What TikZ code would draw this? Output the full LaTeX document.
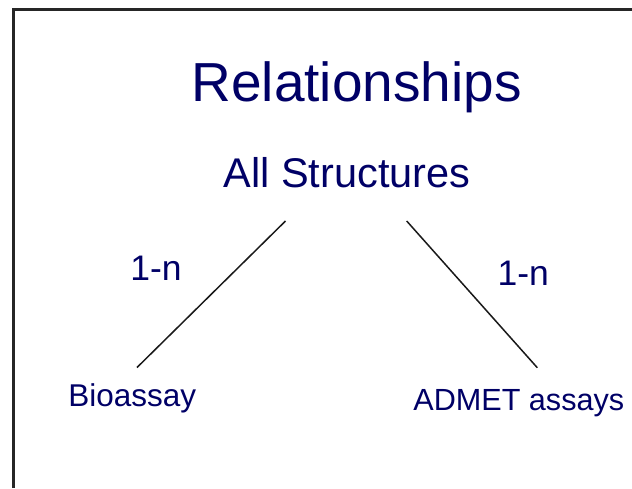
\documentclass[tikz,border=0pt]{standalone}
\usepackage{fontspec}
\setmainfont{Liberation Sans}
\definecolor{slideblue}{RGB}{0, 0, 102}
\begin{document}
\begin{tikzpicture}[x=1pt, y=-1pt,
    txt/.style={text=slideblue, inner sep=0pt, anchor=base},
    link/.style={line width=1.5pt, black!90}
  ]
  \useasboundingbox (0,0) rectangle (632,488);

  % slide frame
  \draw[line width=2.4pt, black!85] (13.5,488) -- (13.5,9.5) -- (632,9.5);

  \node[txt, font=\fontsize{55}{60}\selectfont] (title) at (356.7,101.7) {Relationships};
  \node[txt, font=\fontsize{41.5}{46}\selectfont] (allstr) at (347,187.7) {All Structures};

  \node[txt, font=\fontsize{31.5}{36}\selectfont] (bio) at (132.2,406) {Bioassay};
  \node[txt, font=\fontsize{30.6}{36}\selectfont] (admet) at (518.8,410) {ADMET assays};

  \node[txt, font=\fontsize{35.5}{40}\selectfont] (card-l) at (156,280) {1-n};
  \node[txt, font=\fontsize{35.5}{40}\selectfont] (card-r) at (523.3,285) {1-n};

  \coordinate (allstr-l) at (285.5,221);
  \coordinate (allstr-r) at (406.7,221);
  \coordinate (bio-top) at (137,367.5);
  \coordinate (admet-top) at (537.3,367.7);

  \draw[link] (allstr-l) -- (bio-top);
  \draw[link] (allstr-r) -- (admet-top);

\end{tikzpicture}
\end{document}
